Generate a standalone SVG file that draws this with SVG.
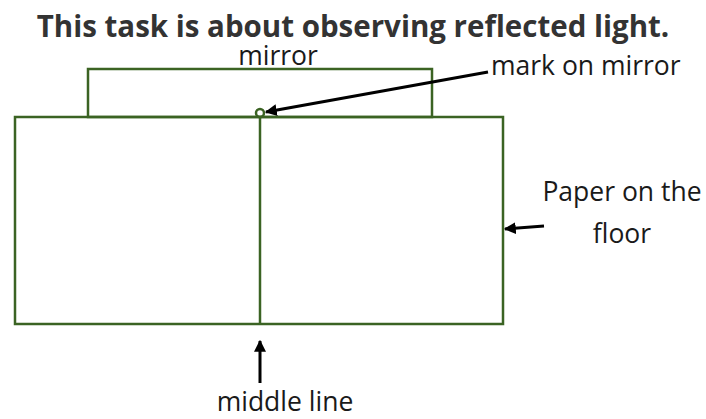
<svg xmlns="http://www.w3.org/2000/svg" width="706" height="419" viewBox="0 0 706 419">
<style>
.sh{fill:none;stroke:#3b6323;stroke-width:2.5}
.lbl{font-family:"Open Sans","Liberation Sans",sans-serif;font-size:26.5px;fill:#1a1a1a}
.ttl{font-family:"Open Sans","Liberation Sans",sans-serif;font-size:29.5px;font-weight:bold;fill:#333}
.ar{stroke:#000;stroke-width:3;fill:none;marker-end:url(#ah)}
</style>
<defs>
<marker id="ah" viewBox="0 0 10 10" refX="9" refY="5" markerWidth="4" markerHeight="4" orient="auto" markerUnits="strokeWidth">
<path d="M0,0 L10,5 L0,10 z" fill="#000"/>
</marker>
</defs>
<rect width="706" height="419" fill="#fff"/>
<text class="ttl" x="353" y="37" text-anchor="middle">This task is about observing reflected light.</text>
<g id="mirror">
<rect class="sh" x="88" y="69" width="344" height="48"/>
<text class="lbl" x="278" y="65" text-anchor="middle">mirror</text>
</g>
<g id="paper">
<rect class="sh" x="15" y="117" width="488" height="207"/>
<text class="lbl" x="622" y="201" text-anchor="middle">Paper on the</text>
<text class="lbl" x="622" y="243" text-anchor="middle">floor</text>
</g>
<g id="middle-line">
<line class="sh" x1="260" y1="117" x2="260" y2="324"/>
<text class="lbl" x="285" y="411" text-anchor="middle">middle line</text>
</g>
<g id="mark">
<circle class="sh" cx="260" cy="113" r="4" fill="#fff"/>
<text class="lbl" x="491" y="75">mark on mirror</text>
</g>
<g id="connectors">
<line class="ar" x1="488" y1="72" x2="266" y2="112"/>
<line class="ar" x1="544" y1="226" x2="505" y2="229"/>
<line class="ar" x1="260" y1="383" x2="260" y2="341"/>
</g>
</svg>
